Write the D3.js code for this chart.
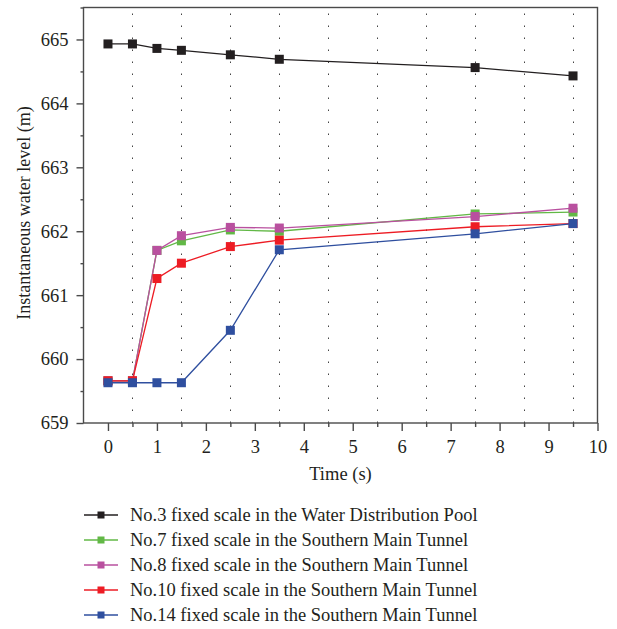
<!DOCTYPE html>
<html>
<head>
<meta charset="utf-8">
<script src="https://cdn.jsdelivr.net/npm/d3@7"></script>
<style>
  body { margin: 0; background: #fff; }
  svg text { font-family: "Liberation Serif", "DejaVu Serif", serif; fill: #231f20; }
</style>
</head>
<body>
<svg id="chart" width="617" height="629"></svg>
<script>
// time points (s)
var times = [0, 0.5, 1, 1.5, 2.5, 3.5, 7.5, 9.5];

// water level readings (m) per gauge
var no3  = [664.93, 664.93, 664.86, 664.83, 664.76, 664.69, 664.56, 664.43];
var no7  = [659.66, 659.66, 661.70, 661.85, 662.02, 662.00, 662.27, 662.30];
var no8  = [659.66, 659.66, 661.70, 661.93, 662.06, 662.05, 662.23, 662.36];
var no10 = [659.66, 659.66, 661.26, 661.50, 661.76, 661.86, 662.07, 662.12];
var no14 = [659.63, 659.63, 659.63, 659.63, 660.45, 661.71, 661.96, 662.12];

var names = [
  "No.3 fixed scale in the Water Distribution Pool",
  "No.7 fixed scale in the Southern Main Tunnel",
  "No.8 fixed scale in the Southern Main Tunnel",
  "No.10 fixed scale in the Southern Main Tunnel",
  "No.14 fixed scale in the Southern Main Tunnel"
];
var colors = ["#231f20", "#62b846", "#b9509f", "#ed1c24", "#2f4f9f"];

var xTicks = [0, 1, 2, 3, 4, 5, 6, 7, 8, 9, 10];
var xMinor = [0.5, 1.5, 2.5, 3.5, 4.5, 5.5, 6.5, 7.5, 8.5, 9.5];
var yTicks = [659, 660, 661, 662, 663, 664, 665];
var yMinor = [659.5, 660.5, 661.5, 662.5, 663.5, 664.5, 665.5];

var series = [no3, no7, no8, no10, no14].map(function(vals, i) {
  return { name: names[i], color: colors[i], values: vals.map(function(v, j) { return { t: times[j], v: v } }) }
});

var svg = d3.select("#chart");
var plotL = 83.5, plotR = 597.5, plotT = 7.5, plotB = 423;
var fs = 18.5;

var x = d3.scaleLinear().domain([-0.5, 10]).range([plotL, plotR]);
var y = d3.scaleLinear().domain([659, 665.5]).range([plotB, plotT]);

// dotted vertical grid
svg.append("g").selectAll("line")
  .data(xMinor)
  .enter().append("line")
    .attr("x1", function(d) { return Math.round(x(d)) + 0.5 })
    .attr("x2", function(d) { return Math.round(x(d)) + 0.5 })
    .attr("y1", plotT + 6)
    .attr("y2", plotB)
    .attr("stroke", "#444")
    .attr("stroke-width", 1)
    .attr("stroke-dasharray", "1.5,10.5");

// frame
svg.append("rect")
  .attr("x", plotL).attr("y", plotT)
  .attr("width", plotR - plotL).attr("height", plotB - plotT)
  .attr("fill", "none").attr("stroke", "#4a4a4a").attr("stroke-width", 1.4);

// x axis
var xAxis = svg.append("g").attr("transform", "translate(0," + plotB + ")");
xAxis.call(d3.axisBottom(x).tickValues(xTicks).tickSize(8).tickFormat(d3.format("d")));
xAxis.append("g").call(d3.axisBottom(x).tickValues(xMinor).tickSize(4).tickFormat(""));
xAxis.selectAll(".domain").remove();
xAxis.selectAll("line").attr("stroke", "#4a4a4a").attr("stroke-width", 1.4);
xAxis.selectAll("text").attr("font-size", fs).attr("font-family", "Liberation Serif").attr("dy", "1.05em");

// y axis
var yAxis = svg.append("g").attr("transform", "translate(" + plotL + ",0)");
yAxis.call(d3.axisLeft(y).tickValues(yTicks).tickSize(7).tickFormat(d3.format("d")));
yAxis.append("g").call(d3.axisLeft(y).tickValues(yMinor).tickSize(3).tickFormat(""));
yAxis.selectAll(".domain").remove();
yAxis.selectAll("line").attr("stroke", "#4a4a4a").attr("stroke-width", 1.4);
yAxis.selectAll("text").attr("font-size", fs).attr("font-family", "Liberation Serif").attr("x", -15);

// axis titles
svg.append("text")
  .attr("x", x(4.75)).attr("y", 480)
  .attr("text-anchor", "middle").attr("font-size", fs)
  .text("Time (s)");
svg.append("text")
  .attr("transform", "translate(30,213) rotate(-90)")
  .attr("text-anchor", "middle").attr("font-size", 18)
  .text("Instantaneous water level (m)");

// lines and markers
var line = d3.line().x(function(d) { return x(d.t) }).y(function(d) { return y(d.v) });

var groups = svg.append("g").selectAll("g")
  .data(series)
  .enter().append("g");

groups.append("path")
  .attr("d", function(d) { return line(d.values) })
  .attr("fill", "none")
  .attr("stroke", function(d) { return d.color })
  .attr("stroke-width", 1.3);

groups.selectAll("rect")
  .data(function(d) { return d.values.map(function(p) { return { t: p.t, v: p.v, color: d.color } }) })
  .enter().append("rect")
    .attr("x", function(d) { return x(d.t) - 4.5 })
    .attr("y", function(d) { return y(d.v) - 4.5 })
    .attr("width", 9).attr("height", 9)
    .attr("fill", function(d) { return d.color });

// legend
var legend = svg.append("g").selectAll("g")
  .data(series)
  .enter().append("g")
    .attr("transform", function(d, i) { return "translate(0," + (515 + i * 25) + ")" });

legend.append("line")
  .attr("x1", 84).attr("x2", 118)
  .attr("stroke", function(d) { return d.color })
  .attr("stroke-width", 1.3);
legend.append("rect")
  .attr("x", 97.5).attr("y", -3.5).attr("width", 7).attr("height", 7)
  .attr("fill", function(d) { return d.color });
legend.append("text")
  .attr("x", 130).attr("y", 6)
  .attr("font-size", fs)
  .text(function(d) { return d.name });
</script>
</body>
</html>
